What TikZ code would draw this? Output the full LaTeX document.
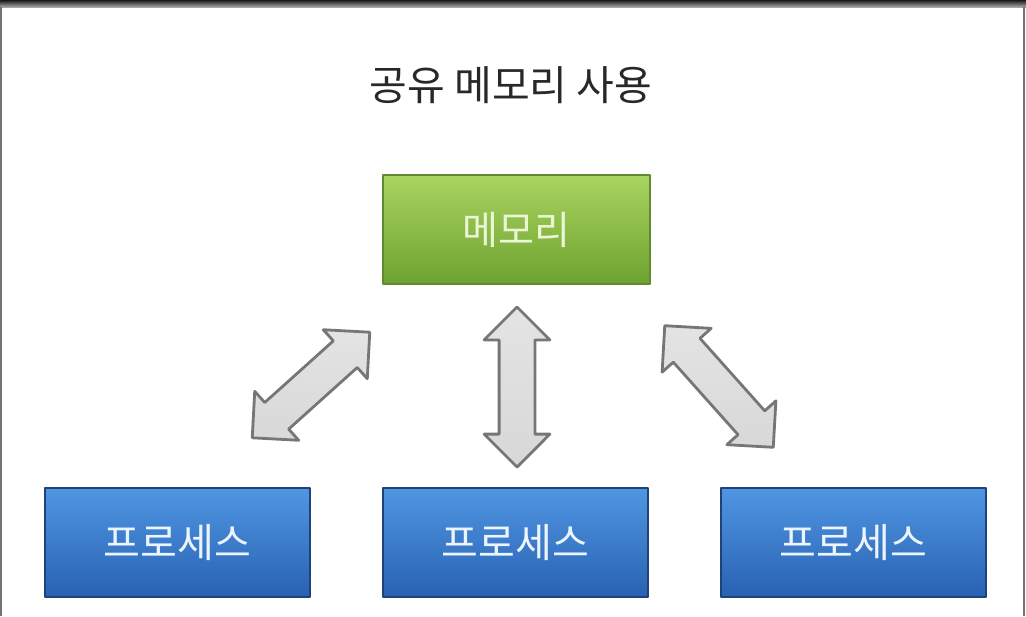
\documentclass[tikz,border=0pt]{standalone}
\usepackage{fontspec}
\newfontfamily\krfont{Noto Sans CJK KR}
\usetikzlibrary{shapes.arrows}
\definecolor{memtop}{RGB}{170,212,96}
\definecolor{membot}{RGB}{110,162,48}
\definecolor{memline}{RGB}{96,140,44}
\definecolor{memtext}{RGB}{234,246,214}
\definecolor{proctop}{RGB}{80,150,226}
\definecolor{procbot}{RGB}{40,98,178}
\definecolor{procline}{RGB}{30,66,122}
\definecolor{proctext}{RGB}{236,244,255}
\definecolor{arrfill}{RGB}{216,216,216}
\definecolor{arrline}{RGB}{118,118,118}
\definecolor{titletext}{RGB}{40,40,40}

\begin{document}
\begin{tikzpicture}[
    x=0.5pt, y=-0.5pt,
    line join=round,
    frame/.style={black!55, line width=1pt},
    title/.style={titletext, font=\krfont\fontsize{20.5pt}{24pt}\selectfont},
    membox/.style={rectangle, draw=memline, line width=0.8pt,
                   top color=memtop, bottom color=membot,
                   minimum width=133.5pt, minimum height=54.5pt,
                   text=memtext, font=\krfont\fontsize{19.5pt}{22pt}\selectfont},
    procbox/.style={rectangle, draw=procline, line width=0.8pt,
                    top color=proctop, bottom color=procbot,
                    minimum width=132.5pt, minimum height=54.5pt,
                    text=proctext, font=\krfont\fontsize{20pt}{22pt}\selectfont},
    fatarrow/.style={double arrow, draw=arrline, line width=1.4pt,
                     top color=arrfill!70!white, bottom color=arrfill,
                     inner xsep=0pt, inner ysep=8.25pt, minimum width=0pt,
                     double arrow head extend=7.5pt, double arrow tip angle=90},
  ]
  \useasboundingbox (0,0) rectangle (1026,616);

  % ---- frame --------------------------------------------------
  \shade[top color=black!90, bottom color=black!35] (0,0) rectangle (1026,7);
  \draw[frame] (1,7) -- (1,616);
  \draw[frame] (1024,7) -- (1024,616);

  % ---- title and boxes ----------------------------------------
  \node[title] (title) at (511,85) {공유 메모리 사용};
  \node[membox]  (mem) at (516.5,229.5) {메모리};
  \node[procbox] (p1)  at (177.5,542.5) {프로세스};
  \node[procbox] (p2)  at (515.5,542.5) {프로세스};
  \node[procbox] (p3)  at (853.5,542.5) {프로세스};

  % ---- arrow end points ----------------------------------------
  \coordinate (a1m) at (370,332);   % left arrow, memory end
  \coordinate (a1p) at (252,438);   % left arrow, process end
  \coordinate (a2m) at (517,307);   % middle arrow, memory end
  \coordinate (a2p) at (517,467);   % middle arrow, process end
  \coordinate (a3m) at (665,326);   % right arrow, memory end
  \coordinate (a3p) at (773,447);   % right arrow, process end

  % ---- arrows -------------------------------------------------
  \path (a1p) -- (a1m) node[fatarrow, midway, sloped, minimum height=79pt] {};
  \path (a2p) -- (a2m) node[fatarrow, midway, sloped, minimum height=80pt] {};
  \path (a3m) -- (a3p) node[fatarrow, midway, sloped, minimum height=81.5pt] {};

\end{tikzpicture}
\end{document}
